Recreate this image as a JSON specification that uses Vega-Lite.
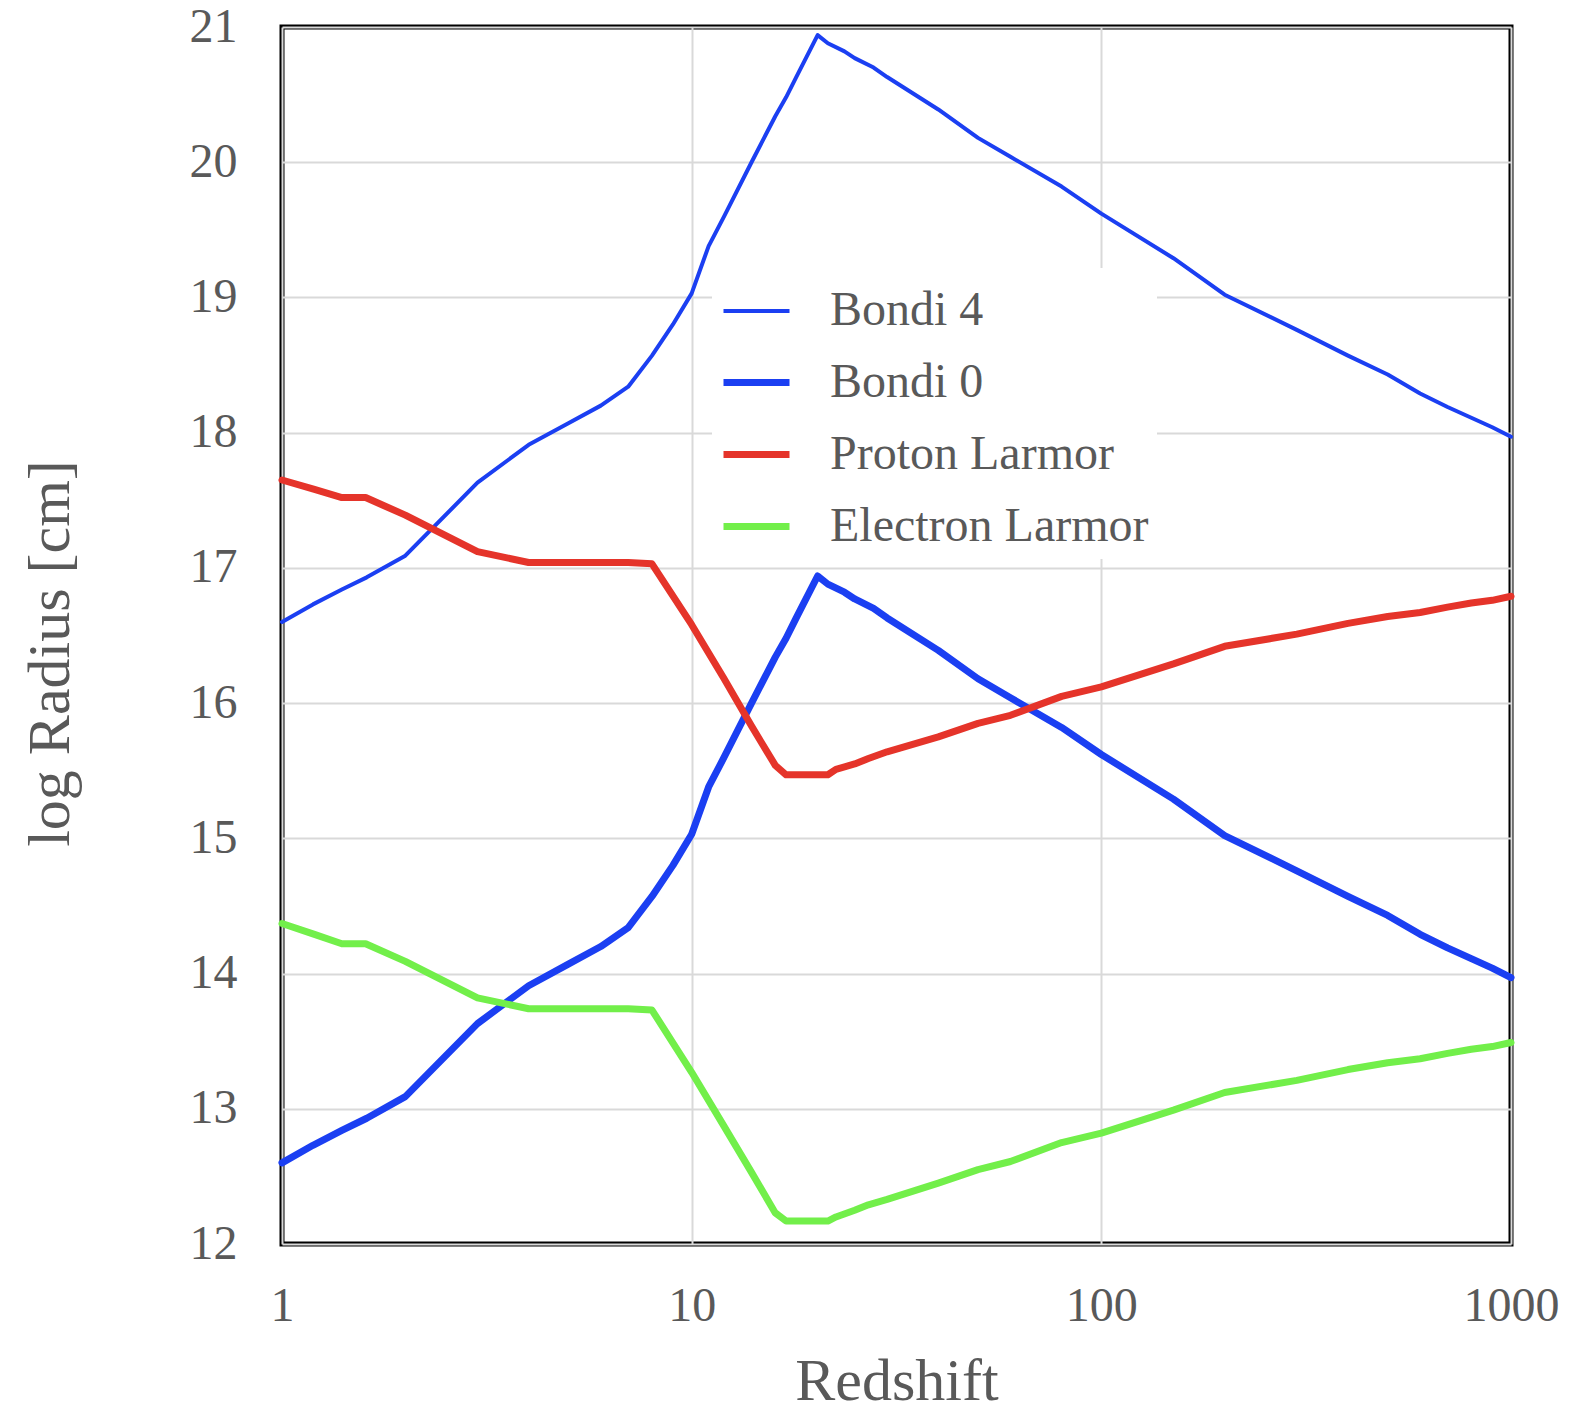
{
  "$schema": "https://vega.github.io/schema/vega-lite/v6.json",
  "description": "log Radius vs Redshift: Bondi and Larmor radii",
  "width": 1229,
  "height": 1217,
  "autosize": {"type": "none"},
  "padding": {"left": 282, "top": 27, "right": 65, "bottom": 174},
  "background": "white",
  "config": {
    "view": {"stroke": "black", "strokeWidth": 5},
    "font": "Liberation Serif",
    "axis": {
      "labelFont": "Liberation Serif",
      "labelFontSize": 48,
      "labelColor": "#595959",
      "labelFlush": false,
      "titleFont": "Liberation Serif",
      "titleFontSize": 60,
      "titleFontWeight": "normal",
      "titleColor": "#595959",
      "gridColor": "#d9d9d9",
      "gridWidth": 2,
      "domain": false,
      "ticks": false
    },
    "legend": {
      "labelFont": "Liberation Serif",
      "labelFontSize": 48,
      "labelColor": "#595959",
      "labelLimit": 0
    }
  },
  "data": {
    "values": [
      {"z": 1, "r": 16.60, "series": "Bondi 4"},
      {"z": 1.19, "r": 16.73, "series": "Bondi 4"},
      {"z": 1.4, "r": 16.84, "series": "Bondi 4"},
      {"z": 1.61, "r": 16.93, "series": "Bondi 4"},
      {"z": 2, "r": 17.09, "series": "Bondi 4"},
      {"z": 3, "r": 17.63, "series": "Bondi 4"},
      {"z": 4, "r": 17.91, "series": "Bondi 4"},
      {"z": 5, "r": 18.07, "series": "Bondi 4"},
      {"z": 6, "r": 18.20, "series": "Bondi 4"},
      {"z": 7, "r": 18.34, "series": "Bondi 4"},
      {"z": 8, "r": 18.57, "series": "Bondi 4"},
      {"z": 9, "r": 18.80, "series": "Bondi 4"},
      {"z": 10, "r": 19.03, "series": "Bondi 4"},
      {"z": 11, "r": 19.38, "series": "Bondi 4"},
      {"z": 12, "r": 19.60, "series": "Bondi 4"},
      {"z": 14, "r": 20.00, "series": "Bondi 4"},
      {"z": 16, "r": 20.34, "series": "Bondi 4"},
      {"z": 17, "r": 20.48, "series": "Bondi 4"},
      {"z": 18, "r": 20.63, "series": "Bondi 4"},
      {"z": 20.3, "r": 20.94, "series": "Bondi 4"},
      {"z": 21.5, "r": 20.88, "series": "Bondi 4"},
      {"z": 23.6, "r": 20.82, "series": "Bondi 4"},
      {"z": 25, "r": 20.77, "series": "Bondi 4"},
      {"z": 27.8, "r": 20.70, "series": "Bondi 4"},
      {"z": 30, "r": 20.63, "series": "Bondi 4"},
      {"z": 40, "r": 20.39, "series": "Bondi 4"},
      {"z": 50, "r": 20.18, "series": "Bondi 4"},
      {"z": 60, "r": 20.04, "series": "Bondi 4"},
      {"z": 80, "r": 19.82, "series": "Bondi 4"},
      {"z": 100, "r": 19.62, "series": "Bondi 4"},
      {"z": 150, "r": 19.29, "series": "Bondi 4"},
      {"z": 200, "r": 19.02, "series": "Bondi 4"},
      {"z": 300, "r": 18.76, "series": "Bondi 4"},
      {"z": 400, "r": 18.57, "series": "Bondi 4"},
      {"z": 500, "r": 18.43, "series": "Bondi 4"},
      {"z": 600, "r": 18.29, "series": "Bondi 4"},
      {"z": 700, "r": 18.19, "series": "Bondi 4"},
      {"z": 800, "r": 18.11, "series": "Bondi 4"},
      {"z": 900, "r": 18.04, "series": "Bondi 4"},
      {"z": 1000, "r": 17.97, "series": "Bondi 4"},

      {"z": 1, "r": 12.60, "series": "Bondi 0"},
      {"z": 1.19, "r": 12.73, "series": "Bondi 0"},
      {"z": 1.4, "r": 12.84, "series": "Bondi 0"},
      {"z": 1.61, "r": 12.93, "series": "Bondi 0"},
      {"z": 2, "r": 13.09, "series": "Bondi 0"},
      {"z": 3, "r": 13.63, "series": "Bondi 0"},
      {"z": 4, "r": 13.91, "series": "Bondi 0"},
      {"z": 5, "r": 14.07, "series": "Bondi 0"},
      {"z": 6, "r": 14.20, "series": "Bondi 0"},
      {"z": 7, "r": 14.34, "series": "Bondi 0"},
      {"z": 8, "r": 14.57, "series": "Bondi 0"},
      {"z": 9, "r": 14.80, "series": "Bondi 0"},
      {"z": 10, "r": 15.03, "series": "Bondi 0"},
      {"z": 11, "r": 15.38, "series": "Bondi 0"},
      {"z": 12, "r": 15.60, "series": "Bondi 0"},
      {"z": 14, "r": 16.00, "series": "Bondi 0"},
      {"z": 16, "r": 16.34, "series": "Bondi 0"},
      {"z": 17, "r": 16.48, "series": "Bondi 0"},
      {"z": 18, "r": 16.63, "series": "Bondi 0"},
      {"z": 20.3, "r": 16.94, "series": "Bondi 0"},
      {"z": 21.5, "r": 16.88, "series": "Bondi 0"},
      {"z": 23.6, "r": 16.82, "series": "Bondi 0"},
      {"z": 25, "r": 16.77, "series": "Bondi 0"},
      {"z": 27.8, "r": 16.70, "series": "Bondi 0"},
      {"z": 30, "r": 16.63, "series": "Bondi 0"},
      {"z": 40, "r": 16.39, "series": "Bondi 0"},
      {"z": 50, "r": 16.18, "series": "Bondi 0"},
      {"z": 60, "r": 16.04, "series": "Bondi 0"},
      {"z": 80, "r": 15.82, "series": "Bondi 0"},
      {"z": 100, "r": 15.62, "series": "Bondi 0"},
      {"z": 150, "r": 15.29, "series": "Bondi 0"},
      {"z": 200, "r": 15.02, "series": "Bondi 0"},
      {"z": 300, "r": 14.76, "series": "Bondi 0"},
      {"z": 400, "r": 14.57, "series": "Bondi 0"},
      {"z": 500, "r": 14.43, "series": "Bondi 0"},
      {"z": 600, "r": 14.29, "series": "Bondi 0"},
      {"z": 700, "r": 14.19, "series": "Bondi 0"},
      {"z": 800, "r": 14.11, "series": "Bondi 0"},
      {"z": 900, "r": 14.04, "series": "Bondi 0"},
      {"z": 1000, "r": 13.97, "series": "Bondi 0"},

      {"z": 1, "r": 17.65, "series": "Proton Larmor"},
      {"z": 1.2, "r": 17.58, "series": "Proton Larmor"},
      {"z": 1.4, "r": 17.52, "series": "Proton Larmor"},
      {"z": 1.6, "r": 17.52, "series": "Proton Larmor"},
      {"z": 2, "r": 17.39, "series": "Proton Larmor"},
      {"z": 3, "r": 17.12, "series": "Proton Larmor"},
      {"z": 4, "r": 17.04, "series": "Proton Larmor"},
      {"z": 5, "r": 17.04, "series": "Proton Larmor"},
      {"z": 6, "r": 17.04, "series": "Proton Larmor"},
      {"z": 7, "r": 17.04, "series": "Proton Larmor"},
      {"z": 8, "r": 17.03, "series": "Proton Larmor"},
      {"z": 10, "r": 16.58, "series": "Proton Larmor"},
      {"z": 12, "r": 16.18, "series": "Proton Larmor"},
      {"z": 14, "r": 15.83, "series": "Proton Larmor"},
      {"z": 16, "r": 15.54, "series": "Proton Larmor"},
      {"z": 17, "r": 15.47, "series": "Proton Larmor"},
      {"z": 20, "r": 15.47, "series": "Proton Larmor"},
      {"z": 21.5, "r": 15.47, "series": "Proton Larmor"},
      {"z": 22.5, "r": 15.51, "series": "Proton Larmor"},
      {"z": 25, "r": 15.55, "series": "Proton Larmor"},
      {"z": 27, "r": 15.59, "series": "Proton Larmor"},
      {"z": 30, "r": 15.64, "series": "Proton Larmor"},
      {"z": 40, "r": 15.75, "series": "Proton Larmor"},
      {"z": 50, "r": 15.85, "series": "Proton Larmor"},
      {"z": 60, "r": 15.91, "series": "Proton Larmor"},
      {"z": 80, "r": 16.05, "series": "Proton Larmor"},
      {"z": 100, "r": 16.12, "series": "Proton Larmor"},
      {"z": 150, "r": 16.29, "series": "Proton Larmor"},
      {"z": 200, "r": 16.42, "series": "Proton Larmor"},
      {"z": 300, "r": 16.51, "series": "Proton Larmor"},
      {"z": 400, "r": 16.59, "series": "Proton Larmor"},
      {"z": 500, "r": 16.64, "series": "Proton Larmor"},
      {"z": 600, "r": 16.67, "series": "Proton Larmor"},
      {"z": 700, "r": 16.71, "series": "Proton Larmor"},
      {"z": 800, "r": 16.74, "series": "Proton Larmor"},
      {"z": 900, "r": 16.76, "series": "Proton Larmor"},
      {"z": 1000, "r": 16.79, "series": "Proton Larmor"},

      {"z": 1, "r": 14.37, "series": "Electron Larmor"},
      {"z": 1.2, "r": 14.29, "series": "Electron Larmor"},
      {"z": 1.4, "r": 14.22, "series": "Electron Larmor"},
      {"z": 1.6, "r": 14.22, "series": "Electron Larmor"},
      {"z": 2, "r": 14.09, "series": "Electron Larmor"},
      {"z": 3, "r": 13.82, "series": "Electron Larmor"},
      {"z": 4, "r": 13.74, "series": "Electron Larmor"},
      {"z": 5, "r": 13.74, "series": "Electron Larmor"},
      {"z": 6, "r": 13.74, "series": "Electron Larmor"},
      {"z": 7, "r": 13.74, "series": "Electron Larmor"},
      {"z": 8, "r": 13.73, "series": "Electron Larmor"},
      {"z": 10, "r": 13.27, "series": "Electron Larmor"},
      {"z": 12, "r": 12.87, "series": "Electron Larmor"},
      {"z": 14, "r": 12.53, "series": "Electron Larmor"},
      {"z": 16, "r": 12.23, "series": "Electron Larmor"},
      {"z": 17, "r": 12.17, "series": "Electron Larmor"},
      {"z": 20, "r": 12.17, "series": "Electron Larmor"},
      {"z": 21.5, "r": 12.17, "series": "Electron Larmor"},
      {"z": 22.5, "r": 12.20, "series": "Electron Larmor"},
      {"z": 25, "r": 12.25, "series": "Electron Larmor"},
      {"z": 27, "r": 12.29, "series": "Electron Larmor"},
      {"z": 30, "r": 12.33, "series": "Electron Larmor"},
      {"z": 40, "r": 12.45, "series": "Electron Larmor"},
      {"z": 50, "r": 12.55, "series": "Electron Larmor"},
      {"z": 60, "r": 12.61, "series": "Electron Larmor"},
      {"z": 80, "r": 12.75, "series": "Electron Larmor"},
      {"z": 100, "r": 12.82, "series": "Electron Larmor"},
      {"z": 150, "r": 12.99, "series": "Electron Larmor"},
      {"z": 200, "r": 13.12, "series": "Electron Larmor"},
      {"z": 300, "r": 13.21, "series": "Electron Larmor"},
      {"z": 400, "r": 13.29, "series": "Electron Larmor"},
      {"z": 500, "r": 13.34, "series": "Electron Larmor"},
      {"z": 600, "r": 13.37, "series": "Electron Larmor"},
      {"z": 700, "r": 13.41, "series": "Electron Larmor"},
      {"z": 800, "r": 13.44, "series": "Electron Larmor"},
      {"z": 900, "r": 13.46, "series": "Electron Larmor"},
      {"z": 1000, "r": 13.49, "series": "Electron Larmor"}
    ]
  },
  "mark": {"type": "line", "strokeCap": "round", "strokeJoin": "round"},
  "encoding": {
    "x": {
      "field": "z",
      "type": "quantitative",
      "scale": {"type": "log", "domain": [1, 1000]},
      "axis": {
        "title": "Redshift",
        "values": [1, 10, 100, 1000],
        "format": "d",
        "labelPadding": 38,
        "titlePadding": 22
      }
    },
    "y": {
      "field": "r",
      "type": "quantitative",
      "scale": {"domain": [12, 21], "nice": false, "zero": false},
      "axis": {
        "title": "log Radius [cm]",
        "values": [12, 13, 14, 15, 16, 17, 18, 19, 20, 21],
        "labelPadding": 45,
        "titlePadding": 108,
        "titleY": 626
      }
    },
    "color": {
      "field": "series",
      "type": "ordinal",
      "scale": {
        "type": "ordinal",
        "domain": ["Bondi 4", "Bondi 0", "Proton Larmor", "Electron Larmor"],
        "range": ["#1b3ff2", "#1b3ff2", "#e5342a", "#72ef4a"]
      },
      "legend": {
        "title": null,
        "orient": "none",
        "legendX": 430,
        "legendY": 241,
        "fillColor": "white",
        "padding": 8,
        "symbolType": "stroke",
        "symbolSize": 4356,
        "labelOffset": 37,
        "rowPadding": 11
      }
    },
    "strokeWidth": {
      "field": "series",
      "type": "ordinal",
      "scale": {
        "type": "ordinal",
        "domain": ["Bondi 4", "Bondi 0", "Proton Larmor", "Electron Larmor"],
        "range": [4, 7, 7, 7]
      },
      "legend": {
        "title": null,
        "orient": "none",
        "legendX": 430,
        "legendY": 241,
        "fillColor": "white",
        "padding": 8,
        "symbolType": "stroke",
        "symbolSize": 4356,
        "labelOffset": 37,
        "rowPadding": 11
      }
    }
  }
}
